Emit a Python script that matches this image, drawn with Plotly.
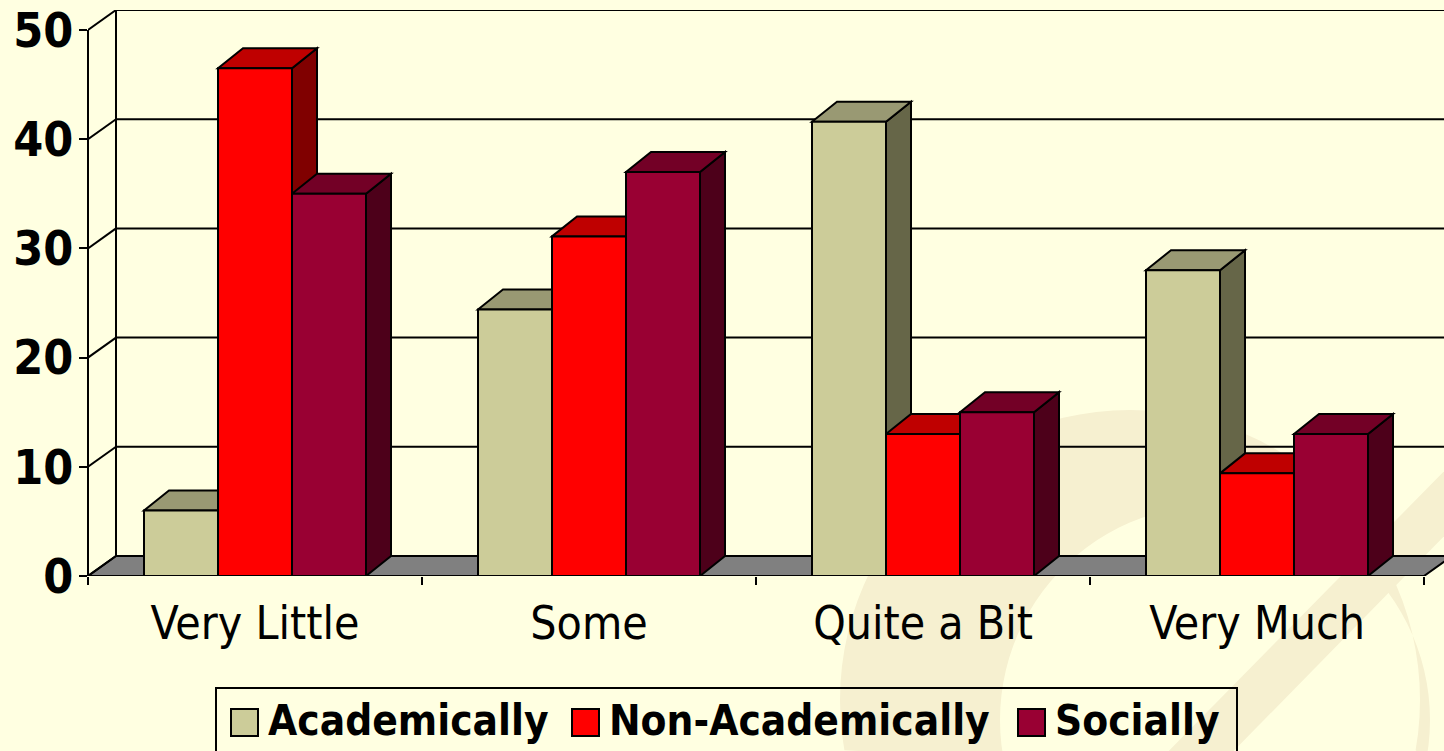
import math
import plotly.graph_objects as go

# ---------------- data ----------------
categories = ["Very Little", "Some", "Quite a Bit", "Very Much"]
series_names = ["Academically", "Non-Academically", "Socially"]
academically = [6.0, 24.4, 41.6, 28.0]
non_academically = [46.5, 31.1, 13.0, 9.4]
socially = [35.0, 37.0, 15.0, 13.0]
y_ticks = [0, 10, 20, 30, 40, 50]

# ---------------- styles ----------------
front_colors = ["#CCCC99", "#FF0000", "#990033"]
top_colors = ["#999973", "#BF0000", "#730026"]
side_colors = ["#666648", "#800000", "#4D001A"]
BG = "rgb(255,255,225)"
DECOR = "rgb(246,240,208)"
FONT = "DejaVu Sans Condensed, DejaVu Sans, Verdana, sans-serif"

W, H = 1444, 751
PAGE_OFF = 0          # body margin removed in the page (see post_script)
AXIS_LEFT_PX = 88     # target positions in the screenshot
AXIS_TOP_PX = 10
AXIS_BOTTOM_PX = 576
ML = AXIS_LEFT_PX - PAGE_OFF
MT = AXIS_TOP_PX - PAGE_OFF
MB = H - (AXIS_BOTTOM_PX - PAGE_OFF)
MR = 0
PX_PER_CAT = 334.0
PX_PER_VAL = 10.92
plot_w = W - ML - MR
plot_h = H - MT - MB
x_range = [-0.5, -0.5 + plot_w / PX_PER_CAT]
y_range = [0, plot_h / PX_PER_VAL]

WALL_DX = 28 / PX_PER_CAT
WALL_DY = 20 / PX_PER_VAL
BAR_DX = 25 / PX_PER_CAT
BAR_DY = 20 / PX_PER_VAL
BW = 74 / PX_PER_CAT
LW = 2

series = [academically, non_academically, socially]
xpos = list(range(len(categories)))
n_series = len(series)


def px_to_paper_x(px):
    return (px - PAGE_OFF - ML) / plot_w


def py_to_paper_y(py):
    return (H - MB - (py - PAGE_OFF)) / plot_h


fig = go.Figure()
shapes = []

# background decoration (template swoosh), paper coordinates
def circle_pts(cx, cy, r, a0, a1, n=60):
    pts = []
    for i in range(n + 1):
        a = a0 + (a1 - a0) * i / n
        pts.append((cx + r * math.cos(a), cy - r * math.sin(a)))
    return pts

outer = circle_pts(1130, 700, 290, math.radians(190), math.radians(-10))
inner = circle_pts(1215, 720, 215, math.radians(-10), math.radians(190))
pts = outer + inner
path = "M" + " L".join(f"{px_to_paper_x(x)},{py_to_paper_y(y)}" for x, y in pts) + " Z"
shapes.append(dict(type="path", xref="paper", yref="paper", layer="below",
                   path=path, fillcolor=DECOR, line=dict(width=0)))
band = [(1460, 455), (1460, 520), (1215, 770), (1150, 770)]
path = "M" + " L".join(f"{px_to_paper_x(x)},{py_to_paper_y(y)}" for x, y in band) + " Z"
shapes.append(dict(type="path", xref="paper", yref="paper", layer="below",
                   path=path, fillcolor=DECOR, line=dict(width=0)))

# floor
x_left = -0.5
x_right = len(categories) - 0.5
shapes.append(dict(type="path", xref="x", yref="y", layer="below",
                   path=f"M{x_left},0 L{x_right},0 L{x_right+WALL_DX},{WALL_DY} L{x_left+WALL_DX},{WALL_DY} Z",
                   fillcolor="#808080", line=dict(color="black", width=LW)))
# back wall gridlines and left wall diagonals
ymax = max(y_ticks)
for t in y_ticks:
    if t > 0:
        shapes.append(dict(type="line", xref="x", yref="y", layer="below",
                           x0=x_left + WALL_DX, x1=x_right + WALL_DX + 1, y0=t + WALL_DY, y1=t + WALL_DY,
                           line=dict(color="black", width=LW)))
    shapes.append(dict(type="line", xref="x", yref="y", layer="below",
                       x0=x_left, x1=x_left + WALL_DX, y0=t, y1=t + WALL_DY,
                       line=dict(color="black", width=LW)))
# back-left vertical edge
shapes.append(dict(type="line", xref="x", yref="y", layer="below",
                   x0=x_left + WALL_DX, x1=x_left + WALL_DX, y0=WALL_DY, y1=ymax + WALL_DY,
                   line=dict(color="black", width=LW)))
# front-left value axis line
shapes.append(dict(type="line", xref="paper", yref="y", layer="above",
                   x0=0, x1=0, y0=0, y1=ymax, line=dict(color="black", width=LW)))

# 3D faces (side + top) of bars, painter's order left -> right
for j in xpos:
    for k in range(n_series):
        v = series[k][j]
        L = j - 1.5 * BW + k * BW
        R = L + BW
        shapes.append(dict(type="path", xref="x", yref="y", layer="below",
                           path=f"M{R},0 L{R+BAR_DX},{BAR_DY} L{R+BAR_DX},{v+BAR_DY} L{R},{v} Z",
                           fillcolor=side_colors[k], line=dict(color="black", width=LW)))
        shapes.append(dict(type="path", xref="x", yref="y", layer="below",
                           path=f"M{L},{v} L{L+BAR_DX},{v+BAR_DY} L{R+BAR_DX},{v+BAR_DY} L{R},{v} Z",
                           fillcolor=top_colors[k], line=dict(color="black", width=LW)))

# front faces of bars
for k in range(n_series):
    fig.add_trace(go.Bar(
        x=xpos, y=series[k], name=series_names[k],
        width=BW, offset=-1.5 * BW + k * BW,
        marker=dict(color=front_colors[k], line=dict(color="black", width=LW)),
        showlegend=False,
    ))

# boundary tick marks on a matching overlay axis
fig.add_trace(go.Scatter(x=[x_left], y=[0], xaxis="x2", mode="markers",
                         marker=dict(opacity=0), showlegend=False, hoverinfo="skip"))

# ---------------- legend (drawn) ----------------
shapes.append(dict(type="rect", xref="paper", yref="paper", layer="above",
                   x0=px_to_paper_x(216), x1=px_to_paper_x(1237),
                   y0=py_to_paper_y(780), y1=py_to_paper_y(688),
                   fillcolor="rgba(0,0,0,0)", line=dict(color="black", width=LW)))
legend_sq_x = [231, 572, 1018]
legend_tx_x = [266, 607, 1053]
annotations = []
for k in range(n_series):
    shapes.append(dict(type="rect", xref="paper", yref="paper", layer="above",
                       x0=px_to_paper_x(legend_sq_x[k]), x1=px_to_paper_x(legend_sq_x[k] + 27),
                       y0=py_to_paper_y(736), y1=py_to_paper_y(709),
                       fillcolor=front_colors[k], line=dict(color="black", width=LW)))
    annotations.append(dict(xref="paper", yref="paper", x=px_to_paper_x(legend_tx_x[k]),
                            y=py_to_paper_y(720), xanchor="left", yanchor="middle",
                            text=f"<b>{series_names[k]}</b>", showarrow=False,
                            font=dict(family=FONT, size=42, color="black")))

fig.update_layout(
    width=W, height=H, autosize=False,
    margin=dict(l=ML, r=MR, t=MT, b=MB, autoexpand=False),
    paper_bgcolor=BG, plot_bgcolor="rgba(0,0,0,0)",
    barmode="overlay",
    shapes=shapes, annotations=annotations,
    showlegend=False,
    xaxis=dict(range=x_range, tickvals=xpos, ticktext=categories, ticks="",
               automargin=False, ticklabelstandoff=16, ticklabeloverflow="allow",
               showgrid=False, zeroline=False, showline=False,
               tickfont=dict(family=FONT, size=46, color="black")),
    xaxis2=dict(overlaying="x", side="bottom", range=x_range, automargin=False,
                tickvals=[j - 0.5 for j in xpos] + [x_right], ticktext=[""] * (len(xpos) + 1),
                ticks="outside", ticklen=8, tickwidth=2, tickcolor="black",
                showgrid=False, zeroline=False, showline=False),
    yaxis=dict(range=y_range, tickvals=y_ticks, ticktext=[f"<b>{t}</b>" for t in y_ticks],
               automargin=False, ticklabelstandoff=-4, ticklabeloverflow="allow",
               ticks="outside", ticklen=8, tickwidth=2, tickcolor="black",
               showgrid=False, zeroline=False, showline=False,
               tickfont=dict(family=FONT, size=48, color="black")),
)

fig.write_html("out.html",
               config={"displayModeBar": False},
               post_script="document.body.style.margin='0px'; document.body.style.background='" + BG + "';")
